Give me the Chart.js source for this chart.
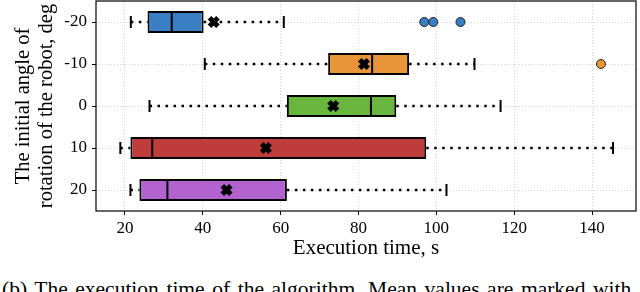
<!DOCTYPE html>
<html>
<head>
<meta charset="utf-8">
<script src="https://cdn.jsdelivr.net/npm/chart.js@4"></script>
<style>
  body { margin: 0; background: #fff; width: 640px; height: 292px; overflow: hidden; position: relative; }
  #wrap { position: absolute; left: 0; top: 0; width: 640px; height: 265px; }
  #caption { position: absolute; left: 2px; top: 279px; font: 21.5px "Liberation Serif", serif; word-spacing: 2.2px; white-space: nowrap; line-height: 1; color: #000; }
</style>
</head>
<body>
<div id="wrap"><canvas id="boxChart"></canvas></div>
<div id="caption">(b) The execution time of the algorithm. Mean values are marked with</div>
<script>
const categories = ['-20', '-10', '0', '10', '20'];
const whiskLow  = [21.5, 40.5, 26.3, 18.8, 21.4];
const q1        = [25.8, 72.2, 61.6, 21.4, 23.7];
const medians   = [32.0, 83.5, 83.2, 27.0, 30.9];
const q3        = [40.2, 93.0, 89.7, 97.4, 61.6];
const whiskHigh = [60.8, 109.8, 116.5, 145.4, 102.6];
const means     = [42.8, 81.4, 73.5, 56.2, 46.1];
const outlierVals = [96.9, 99.2, 106.2, 142.3];
const outlierCats = ['-20', '-20', '-20', '-10'];
const xTicks = [20, 40, 60, 80, 100, 120, 140];
const colors = ['#3a7ec3', '#e8953a', '#69b63e', '#bf3c3c', '#b363cf'];

window.onload = function () {
    const serif = '"Liberation Serif", "Times New Roman", serif';
    const datasets = [];

    // whiskers, dotted, both sides of each box
    categories.forEach(function (c, i) {
        [[whiskLow[i], q1[i]], [q3[i], whiskHigh[i]]].forEach(function (seg) {
            datasets.push({
                type: 'line',
                data: [{x: seg[0], y: c}, {x: seg[1], y: c}],
                borderColor: '#000',
                borderWidth: 2.5,
                borderDash: [2.5, 5.5],
                pointRadius: 0,
                order: 6
            });
        });
    });

    datasets.push({
        type: 'bar',
        data: q1.map(function (v, i) { return [v, q3[i]]; }),
        backgroundColor: colors,
        borderColor: '#000',
        borderWidth: 2,
        borderSkipped: false,
        barPercentage: 0.52,
        categoryPercentage: 1,
        order: 5
    });

    // whisker caps
    datasets.push({
        type: 'line',
        showLine: false,
        data: categories.map(function (c, i) { return {x: whiskLow[i], y: c}; })
            .concat(categories.map(function (c, i) { return {x: whiskHigh[i], y: c}; })),
        pointStyle: 'line',
        rotation: 90,
        pointRadius: 6,
        pointBorderWidth: 2,
        pointBorderColor: '#000',
        order: 4
    });

    datasets.push({
        type: 'line',
        showLine: false,
        data: categories.map(function (c, i) { return {x: medians[i], y: c}; }),
        pointStyle: 'line',
        rotation: 90,
        pointRadius: 11,
        pointBorderWidth: 2,
        pointBorderColor: '#000',
        order: 3
    });

    datasets.push({
        type: 'line',
        showLine: false,
        data: categories.map(function (c, i) { return {x: means[i], y: c}; }),
        pointStyle: 'crossRot',
        pointRadius: 6,
        pointBorderWidth: 5,
        pointBorderColor: '#000',
        order: 1
    });

    datasets.push({
        type: 'line',
        showLine: false,
        data: outlierVals.map(function (v, i) { return {x: v, y: outlierCats[i]}; }),
        pointStyle: 'circle',
        pointRadius: 4.5,
        pointBorderWidth: 1,
        pointBorderColor: '#222',
        pointBackgroundColor: outlierCats.map(function (c) { return colors[categories.indexOf(c)]; }),
        order: 0
    });

    const framePlugin = {
        id: 'frame',
        afterDraw: function (chart) {
            const a = chart.chartArea, ctx = chart.ctx;
            ctx.save();
            ctx.strokeStyle = '#000';
            ctx.lineWidth = 1.2;
            ctx.strokeRect(a.left, a.top, a.right - a.left, a.bottom - a.top);
            ctx.restore();
        }
    };

    const config = {
        type: 'bar',
        data: { labels: categories, datasets: datasets },
        options: {
            indexAxis: 'y',
            responsive: true,
            maintainAspectRatio: false,
            animation: false,
            layout: { autoPadding: false, padding: { left: 8.5, right: 4, top: 1, bottom: 0 } },
            plugins: { legend: { display: false }, tooltip: { enabled: false } },
            scales: {
                x: {
                    type: 'linear',
                    min: 12.55,
                    max: 151.3,
                    afterBuildTicks: function (s) { s.ticks = xTicks.map(function (v) { return {value: v}; }); },
                    afterFit: function (s) { s.height = 54; s.paddingLeft = 0; s.paddingRight = 0; },
                    grid: { color: '#d2d2d2', tickColor: '#000', tickLength: 4, lineWidth: 1 },
                    border: { display: false, dash: [1, 2] },
                    ticks: { color: '#000', padding: 3, maxRotation: 0, font: { family: serif, size: 17 } },
                    title: { display: true, text: 'Execution time, s', color: '#000', font: { family: serif, size: 21 } }
                },
                y: {
                    type: 'category',
                    offset: true,
                    afterFit: function (s) { s.width = 87.5; s.paddingTop = 0; s.paddingBottom = 0; },
                    grid: { offset: false, color: '#d2d2d2', tickColor: '#000', tickLength: 4, lineWidth: 1 },
                    border: { display: false, dash: [1, 2] },
                    ticks: { color: '#000', padding: 5, font: { family: serif, size: 17 } },
                    title: { display: true, text: ['The initial angle of', 'rotation of the robot, deg'], color: '#000', font: { family: serif, size: 20.5, lineHeight: 1.12 } }
                }
            }
        },
        plugins: [framePlugin]
    };

    const ctx = document.getElementById('boxChart').getContext('2d');
    new Chart(ctx, config);
};
</script>
</body>
</html>
